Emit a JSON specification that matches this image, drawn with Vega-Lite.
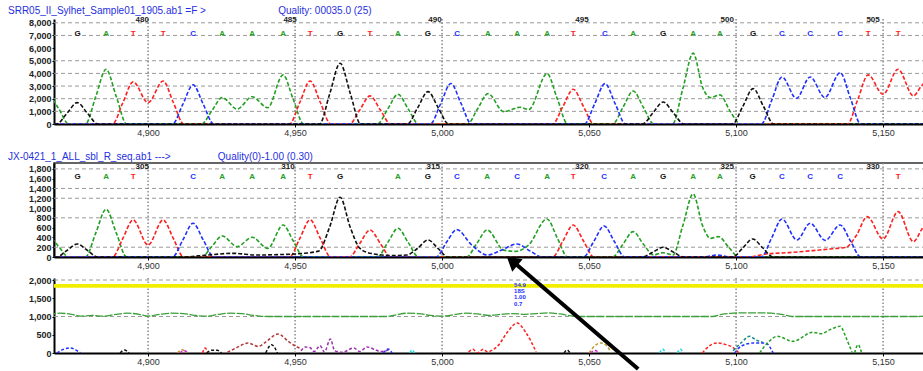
{
"$schema":"https://vega.github.io/schema/vega-lite/v6.json",
"padding":{"left":7,"top":5,"right":0,"bottom":0},
"background":"white",
"spacing":-16,
"resolve":{"scale":{"x":"independent","y":"independent"}},
"datasets":{
"vg":[{"v":4900},{"v":4950},{"v":5000},{"v":5100},{"v":5150}],
"hg1":[{"v":1000},{"v":2000},{"v":3000},{"v":4000},{"v":5000},{"v":7000},{"v":8000}],
"hg2":[{"v":200},{"v":800},{"v":1200},{"v":1400},{"v":1800}],
"hg3":[{"v":1000},{"v":2000}],
"t1":[
{"b":"A","x":4860,"y":1200},{"b":"A","x":4866,"y":2300},{"b":"A","x":4869.5,"y":1250},{"b":"A","x":4873,"y":0},{"b":"A","x":4878.7,"y":0},{"b":"A","x":4882.2,"y":2165},{"b":"A","x":4885.7,"y":4330},{"b":"A","x":4889.2,"y":2165},{"b":"A","x":4892.7,"y":0},{"b":"A","x":4918.2,"y":0},{"b":"A","x":4921.7,"y":1050},{"b":"A","x":4925.2,"y":2090},{"b":"A","x":4930.3,"y":1180},{"b":"A","x":4935.4,"y":2160},{"b":"A","x":4940.7,"y":1290},{"b":"A","x":4945.9,"y":3880},{"b":"A","x":4949.4,"y":1940},{"b":"A","x":4952.9,"y":0},{"b":"A","x":4978,"y":0},{"b":"A","x":4981.5,"y":1175},{"b":"A","x":4985,"y":2350},{"b":"A","x":4988.5,"y":1175},{"b":"A","x":4992,"y":0},{"b":"A","x":5008.6,"y":0},{"b":"A","x":5012.1,"y":1200},{"b":"A","x":5015.6,"y":2400},{"b":"A","x":5021,"y":975},{"b":"A","x":5026.5,"y":1320},{"b":"A","x":5029.5,"y":1150},{"b":"A","x":5035.7,"y":3980},{"b":"A","x":5039.2,"y":1990},{"b":"A","x":5042.7,"y":0},{"b":"A","x":5058,"y":0},{"b":"A","x":5061.5,"y":1305},{"b":"A","x":5065,"y":2610},{"b":"A","x":5068.5,"y":1305},{"b":"A","x":5072,"y":0},{"b":"A","x":5078.4,"y":0},{"b":"A","x":5081.9,"y":2800},{"b":"A","x":5085.4,"y":5600},{"b":"A","x":5088.6,"y":2900},{"b":"A","x":5091.3,"y":2080},{"b":"A","x":5094.5,"y":2300},{"b":"A","x":5098,"y":1000},{"b":"A","x":5101.5,"y":0},{"b":"A","x":5166,"y":0},
{"b":"T","x":4860,"y":0},{"b":"T","x":4887.9,"y":0},{"b":"T","x":4891.4,"y":1665},{"b":"T","x":4894.9,"y":3330},{"b":"T","x":4900,"y":1690},{"b":"T","x":4905.1,"y":3400},{"b":"T","x":4908.6,"y":1700},{"b":"T","x":4912.1,"y":0},{"b":"T","x":4948.1,"y":0},{"b":"T","x":4951.6,"y":1700},{"b":"T","x":4955.1,"y":3400},{"b":"T","x":4958.6,"y":1700},{"b":"T","x":4962.1,"y":0},{"b":"T","x":4968.5,"y":0},{"b":"T","x":4972,"y":1110},{"b":"T","x":4975.5,"y":2220},{"b":"T","x":4979,"y":1110},{"b":"T","x":4982.5,"y":0},{"b":"T","x":5037.6,"y":0},{"b":"T","x":5041.1,"y":1375},{"b":"T","x":5044.6,"y":2750},{"b":"T","x":5048.1,"y":1375},{"b":"T","x":5051.6,"y":0},{"b":"T","x":5137.9,"y":0},{"b":"T","x":5141.4,"y":1940},{"b":"T","x":5144.9,"y":3880},{"b":"T","x":5150,"y":2350},{"b":"T","x":5155.1,"y":4330},{"b":"T","x":5160.3,"y":2220},{"b":"T","x":5163,"y":3000},{"b":"T","x":5166,"y":3700},
{"b":"C","x":4860,"y":0},{"b":"C","x":4908.3,"y":0},{"b":"C","x":4911.8,"y":1545},{"b":"C","x":4915.3,"y":3090},{"b":"C","x":4918.8,"y":1545},{"b":"C","x":4922.3,"y":0},{"b":"C","x":4996,"y":0},{"b":"C","x":4999.5,"y":1600},{"b":"C","x":5003,"y":3200},{"b":"C","x":5006.5,"y":1600},{"b":"C","x":5010,"y":0},{"b":"C","x":5048.4,"y":0},{"b":"C","x":5051.9,"y":1595},{"b":"C","x":5055.4,"y":3190},{"b":"C","x":5058.9,"y":1595},{"b":"C","x":5062.4,"y":0},{"b":"C","x":5108.6,"y":0},{"b":"C","x":5112.1,"y":1860},{"b":"C","x":5115.6,"y":3720},{"b":"C","x":5120.5,"y":2030},{"b":"C","x":5125.2,"y":3720},{"b":"C","x":5130.2,"y":2090},{"b":"C","x":5135.4,"y":4060},{"b":"C","x":5138.9,"y":2030},{"b":"C","x":5142.4,"y":0},{"b":"C","x":5166,"y":0},
{"b":"G","x":4860,"y":0},{"b":"G","x":4868.9,"y":0},{"b":"G","x":4872.4,"y":845},{"b":"G","x":4875.9,"y":1690},{"b":"G","x":4879.4,"y":845},{"b":"G","x":4882.9,"y":0},{"b":"G","x":4958.3,"y":0},{"b":"G","x":4961.8,"y":2400},{"b":"G","x":4965.3,"y":4800},{"b":"G","x":4968.8,"y":2400},{"b":"G","x":4972.3,"y":0},{"b":"G","x":4988.2,"y":0},{"b":"G","x":4991.7,"y":1280},{"b":"G","x":4995.2,"y":2560},{"b":"G","x":4998.7,"y":1280},{"b":"G","x":5002.2,"y":0},{"b":"G","x":5068.2,"y":0},{"b":"G","x":5071.7,"y":870},{"b":"G","x":5075.2,"y":1740},{"b":"G","x":5078.7,"y":870},{"b":"G","x":5082.2,"y":0},{"b":"G","x":5098.8,"y":0},{"b":"G","x":5102.3,"y":1400},{"b":"G","x":5105.8,"y":2800},{"b":"G","x":5109.3,"y":1400},{"b":"G","x":5112.8,"y":0},{"b":"G","x":5166,"y":0}
],
"t2":[
{"b":"A","x":4860,"y":250},{"b":"A","x":4866,"y":420},{"b":"A","x":4869.5,"y":220},{"b":"A","x":4873,"y":0},{"b":"A","x":4878.7,"y":0},{"b":"A","x":4882.2,"y":488},{"b":"A","x":4885.7,"y":975},{"b":"A","x":4889.2,"y":488},{"b":"A","x":4892.7,"y":0},{"b":"A","x":4918.2,"y":0},{"b":"A","x":4921.7,"y":215},{"b":"A","x":4925.2,"y":430},{"b":"A","x":4930.3,"y":211},{"b":"A","x":4935.4,"y":402},{"b":"A","x":4940.7,"y":177},{"b":"A","x":4945.9,"y":654},{"b":"A","x":4949.4,"y":327},{"b":"A","x":4952.9,"y":0},{"b":"A","x":4978,"y":0},{"b":"A","x":4981.5,"y":293},{"b":"A","x":4985,"y":586},{"b":"A","x":4988.5,"y":293},{"b":"A","x":4992,"y":0},{"b":"A","x":5008.3,"y":0},{"b":"A","x":5011.8,"y":276},{"b":"A","x":5015.3,"y":552},{"b":"A","x":5021,"y":140},{"b":"A","x":5025,"y":115},{"b":"A","x":5029.5,"y":250},{"b":"A","x":5035.7,"y":777},{"b":"A","x":5039.2,"y":388},{"b":"A","x":5042.7,"y":0},{"b":"A","x":5058,"y":0},{"b":"A","x":5061.5,"y":259},{"b":"A","x":5065,"y":518},{"b":"A","x":5068.5,"y":259},{"b":"A","x":5072,"y":40},{"b":"A","x":5075,"y":88},{"b":"A","x":5078.5,"y":40},{"b":"A","x":5081.9,"y":644},{"b":"A","x":5085.4,"y":1288},{"b":"A","x":5088.6,"y":640},{"b":"A","x":5091.3,"y":380},{"b":"A","x":5094,"y":416},{"b":"A","x":5097.5,"y":200},{"b":"A","x":5101,"y":0},{"b":"A","x":5166,"y":0},
{"b":"T","x":4860,"y":0},{"b":"T","x":4887.9,"y":0},{"b":"T","x":4891.4,"y":378},{"b":"T","x":4894.9,"y":757},{"b":"T","x":4900,"y":245},{"b":"T","x":4905.1,"y":757},{"b":"T","x":4908.6,"y":378},{"b":"T","x":4912.1,"y":0},{"b":"T","x":4948.1,"y":0},{"b":"T","x":4951.6,"y":378},{"b":"T","x":4955.1,"y":757},{"b":"T","x":4958.6,"y":378},{"b":"T","x":4962.1,"y":0},{"b":"T","x":4968.5,"y":0},{"b":"T","x":4972,"y":276},{"b":"T","x":4975.5,"y":552},{"b":"T","x":4979,"y":276},{"b":"T","x":4982.5,"y":0},{"b":"T","x":5037.6,"y":0},{"b":"T","x":5041.1,"y":327},{"b":"T","x":5044.6,"y":654},{"b":"T","x":5048.1,"y":327},{"b":"T","x":5051.6,"y":0},{"b":"T","x":5104,"y":0},{"b":"T","x":5110,"y":60},{"b":"T","x":5118,"y":90},{"b":"T","x":5126,"y":130},{"b":"T","x":5133,"y":170},{"b":"T","x":5137.5,"y":200},{"b":"T","x":5141,"y":450},{"b":"T","x":5144.6,"y":824},{"b":"T","x":5150,"y":368},{"b":"T","x":5155.1,"y":927},{"b":"T","x":5160.3,"y":313},{"b":"T","x":5163,"y":550},{"b":"T","x":5166,"y":850},
{"b":"C","x":4860,"y":0},{"b":"C","x":4908.3,"y":0},{"b":"C","x":4911.8,"y":345},{"b":"C","x":4915.3,"y":689},{"b":"C","x":4918.8,"y":345},{"b":"C","x":4922.3,"y":0},{"b":"C","x":4998,"y":0},{"b":"C","x":5001.5,"y":300},{"b":"C","x":5005,"y":560},{"b":"C","x":5010,"y":250},{"b":"C","x":5015.5,"y":40},{"b":"C","x":5020.5,"y":150},{"b":"C","x":5025.5,"y":266},{"b":"C","x":5030,"y":120},{"b":"C","x":5034,"y":0},{"b":"C","x":5048.1,"y":0},{"b":"C","x":5051.6,"y":317},{"b":"C","x":5055.1,"y":634},{"b":"C","x":5058.6,"y":317},{"b":"C","x":5062.1,"y":0},{"b":"C","x":5089,"y":0},{"b":"C","x":5093.5,"y":40},{"b":"C","x":5098,"y":0},{"b":"C","x":5108.6,"y":0},{"b":"C","x":5112.1,"y":390},{"b":"C","x":5115.6,"y":777},{"b":"C","x":5120.7,"y":348},{"b":"C","x":5125.2,"y":689},{"b":"C","x":5130.3,"y":340},{"b":"C","x":5135.4,"y":654},{"b":"C","x":5138.9,"y":327},{"b":"C","x":5142.4,"y":0},{"b":"C","x":5166,"y":0},
{"b":"G","x":4860,"y":0},{"b":"G","x":4868.9,"y":0},{"b":"G","x":4872.4,"y":133},{"b":"G","x":4875.9,"y":266},{"b":"G","x":4879.4,"y":133},{"b":"G","x":4882.9,"y":0},{"b":"G","x":4912,"y":0},{"b":"G","x":4920,"y":40},{"b":"G","x":4929,"y":75},{"b":"G","x":4937,"y":40},{"b":"G","x":4945,"y":50},{"b":"G","x":4952,"y":70},{"b":"G","x":4958,"y":120},{"b":"G","x":4961.8,"y":620},{"b":"G","x":4965.3,"y":1220},{"b":"G","x":4968.8,"y":600},{"b":"G","x":4972,"y":180},{"b":"G","x":4976,"y":70},{"b":"G","x":4983,"y":30},{"b":"G","x":4988,"y":40},{"b":"G","x":4991.7,"y":180},{"b":"G","x":4995.2,"y":348},{"b":"G","x":4998.7,"y":170},{"b":"G","x":5002,"y":0},{"b":"G","x":5068.2,"y":0},{"b":"G","x":5071.7,"y":100},{"b":"G","x":5075.2,"y":198},{"b":"G","x":5078.7,"y":100},{"b":"G","x":5082.2,"y":0},{"b":"G","x":5098.8,"y":0},{"b":"G","x":5102.3,"y":184},{"b":"G","x":5105.6,"y":368},{"b":"G","x":5109.1,"y":184},{"b":"G","x":5112.6,"y":0},{"b":"G","x":5166,"y":0}
],
"t3":[
{"g":1,"b":"C","x":4869,"y":0},{"g":1,"b":"C","x":4871.5,"y":110},{"g":1,"b":"C","x":4873.5,"y":137},{"g":1,"b":"C","x":4875.5,"y":80},{"g":1,"b":"C","x":4877,"y":0},
{"g":2,"b":"G","x":4890.5,"y":0},{"g":2,"b":"G","x":4892,"y":82},{"g":2,"b":"G","x":4893.5,"y":0},
{"g":3,"b":"Y","x":4910,"y":0},{"g":3,"b":"Y","x":4911.6,"y":90},{"g":3,"b":"Y","x":4913,"y":0},
{"g":4,"b":"M","x":4910.8,"y":0},{"g":4,"b":"M","x":4912.2,"y":60},{"g":4,"b":"M","x":4913.8,"y":0},
{"g":5,"b":"T","x":4918.5,"y":0},{"g":5,"b":"T","x":4919.4,"y":137},{"g":5,"b":"T","x":4920.3,"y":0},
{"g":6,"b":"G","x":4920,"y":0},{"g":6,"b":"G","x":4921.5,"y":73},{"g":6,"b":"G","x":4923.5,"y":73},{"g":6,"b":"G","x":4925,"y":0},
{"g":7,"b":"R","x":4927,"y":20},{"g":7,"b":"R","x":4930,"y":140},{"g":7,"b":"R","x":4934,"y":274},{"g":7,"b":"R","x":4937.5,"y":180},{"g":7,"b":"R","x":4940,"y":300},{"g":7,"b":"R","x":4944.2,"y":520},{"g":7,"b":"R","x":4948,"y":300},{"g":7,"b":"R","x":4950.7,"y":164},{"g":7,"b":"R","x":4952,"y":120},
{"g":8,"b":"G","x":4940,"y":0},{"g":8,"b":"G","x":4942,"y":228},{"g":8,"b":"G","x":4944,"y":0},
{"g":9,"b":"P","x":4952,"y":60},{"g":9,"b":"P","x":4953.5,"y":164},{"g":9,"b":"P","x":4955,"y":150},{"g":9,"b":"P","x":4956.5,"y":40},{"g":9,"b":"P","x":4958.5,"y":201},{"g":9,"b":"P","x":4960,"y":30},{"g":9,"b":"P","x":4962,"y":384},{"g":9,"b":"P","x":4963.5,"y":60},{"g":9,"b":"P","x":4966,"y":20},{"g":9,"b":"P","x":4970,"y":137},{"g":9,"b":"P","x":4972,"y":40},{"g":9,"b":"P","x":4974.5,"y":164},{"g":9,"b":"P","x":4977,"y":100},{"g":9,"b":"P","x":4979,"y":40},{"g":9,"b":"P","x":4982,"y":90},
{"g":10,"b":"C","x":4980,"y":0},{"g":10,"b":"C","x":4981.6,"y":110},{"g":10,"b":"C","x":4983,"y":0},
{"g":11,"b":"Q","x":4989,"y":0},{"g":11,"b":"Q","x":4989.8,"y":82},{"g":11,"b":"Q","x":4990.6,"y":0},
{"g":12,"b":"T","x":5009,"y":30},{"g":12,"b":"T","x":5010.5,"y":100},{"g":12,"b":"T","x":5012,"y":0},{"g":12,"b":"T","x":5014,"y":100},{"g":12,"b":"T","x":5015.5,"y":30},{"g":12,"b":"T","x":5017.3,"y":90},{"g":12,"b":"T","x":5019,"y":200},{"g":12,"b":"T","x":5022.5,"y":600},{"g":12,"b":"T","x":5025.5,"y":822},{"g":12,"b":"T","x":5028.5,"y":560},{"g":12,"b":"T","x":5032,"y":30},
{"g":13,"b":"G","x":5041.5,"y":0},{"g":13,"b":"G","x":5042.5,"y":82},{"g":13,"b":"G","x":5043.5,"y":0},
{"g":14,"b":"Y","x":5050,"y":0},{"g":14,"b":"Y","x":5052,"y":200},{"g":14,"b":"Y","x":5054,"y":274},{"g":14,"b":"Y","x":5056,"y":200},{"g":14,"b":"Y","x":5057.5,"y":0},
{"g":15,"b":"M","x":5050.5,"y":0},{"g":15,"b":"M","x":5052,"y":70},{"g":15,"b":"M","x":5053.5,"y":0},
{"g":16,"b":"Q","x":5074,"y":0},{"g":16,"b":"Q","x":5075,"y":110},{"g":16,"b":"Q","x":5076,"y":0},
{"g":17,"b":"Q","x":5080,"y":0},{"g":17,"b":"Q","x":5081,"y":110},{"g":17,"b":"Q","x":5082,"y":0},
{"g":18,"b":"T","x":5088.5,"y":0},{"g":18,"b":"T","x":5091,"y":200},{"g":18,"b":"T","x":5093.5,"y":274},{"g":18,"b":"T","x":5096.5,"y":230},{"g":18,"b":"T","x":5099,"y":150},{"g":18,"b":"T","x":5101,"y":0},
{"g":19,"b":"E","x":5099,"y":60},{"g":19,"b":"E","x":5102,"y":300},{"g":19,"b":"E","x":5104.5,"y":457},{"g":19,"b":"E","x":5107,"y":350},{"g":19,"b":"E","x":5109,"y":300},
{"g":20,"b":"C","x":5099.5,"y":0},{"g":20,"b":"C","x":5102,"y":200},{"g":20,"b":"C","x":5106,"y":274},{"g":20,"b":"C","x":5110,"y":274},{"g":20,"b":"C","x":5112.6,"y":0},
{"g":21,"b":"A","x":5108,"y":0},{"g":21,"b":"A","x":5111,"y":300},{"g":21,"b":"A","x":5114,"y":457},{"g":21,"b":"A","x":5119.4,"y":320},{"g":21,"b":"A","x":5126,"y":566},{"g":21,"b":"A","x":5129,"y":530},{"g":21,"b":"A","x":5132,"y":640},{"g":21,"b":"A","x":5135.4,"y":731},{"g":21,"b":"A","x":5137.5,"y":400},{"g":21,"b":"A","x":5139.5,"y":0},
{"g":22,"b":"A","x":5140.3,"y":0},{"g":22,"b":"A","x":5141.5,"y":228},{"g":22,"b":"A","x":5142.7,"y":0}
],
"q":[{"x":4866,"y":1040},{"x":4870,"y":1090},{"x":4874,"y":1060},{"x":4877,"y":1010},{"x":4881,"y":1030},{"x":4885,"y":1010},{"x":4889,"y":1060},{"x":4893,"y":1090},{"x":4897,"y":1060},{"x":4900,"y":1010},{"x":4904,"y":1060},{"x":4908,"y":1090},{"x":4912,"y":1080},{"x":4916,"y":1030},{"x":4920,"y":1010},{"x":4924,"y":1060},{"x":4928,"y":1090},{"x":4932,"y":1080},{"x":4935,"y":1040},{"x":4938,"y":1010},{"x":4941,"y":1000},{"x":4981,"y":1000},{"x":4984,"y":1040},{"x":4988,"y":1090},{"x":4992,"y":1080},{"x":4996,"y":1030},{"x":5000,"y":1010},{"x":5004,"y":1050},{"x":5008,"y":1090},{"x":5012,"y":1070},{"x":5016,"y":1030},{"x":5020,"y":1060},{"x":5024,"y":1080},{"x":5028,"y":1060},{"x":5032,"y":1080},{"x":5036,"y":1100},{"x":5040,"y":1070},{"x":5044,"y":1020},{"x":5048,"y":1000},{"x":5092,"y":1000},{"x":5095,"y":1060},{"x":5099,"y":1090},{"x":5103,"y":1100},{"x":5108,"y":1100},{"x":5112,"y":1090},{"x":5116,"y":1050},{"x":5119,"y":1000},{"x":5162,"y":1000},{"x":5166,"y":1060}],
"l1":[{"b":"G","x":4876},{"b":"A","x":4885.7},{"b":"T","x":4894.9},{"b":"T","x":4905.1},{"b":"C","x":4915.3},{"b":"A","x":4925.2},{"b":"A","x":4935.4},{"b":"A","x":4945.9},{"b":"T","x":4955.1},{"b":"G","x":4965.3},{"b":"T","x":4975.5},{"b":"A","x":4985},{"b":"G","x":4995.2},{"b":"C","x":5005.1},{"b":"A","x":5015.6},{"b":"A","x":5025.5},{"b":"A","x":5035.7},{"b":"T","x":5044.6},{"b":"C","x":5055.4},{"b":"A","x":5065},{"b":"G","x":5075.2},{"b":"A","x":5085.4},{"b":"A","x":5094.5},{"b":"G","x":5105.8},{"b":"C","x":5115.6},{"b":"C","x":5125.2},{"b":"C","x":5135.4},{"b":"T","x":5144.9},{"b":"T","x":5155.1}],
"l2":[{"b":"G","x":4876},{"b":"A","x":4885.7},{"b":"T","x":4894.9},{"b":"C","x":4915.3},{"b":"A","x":4925.2},{"b":"A","x":4935.4},{"b":"A","x":4945.9},{"b":"T","x":4955.1},{"b":"G","x":4965.3},{"b":"A","x":4985},{"b":"G","x":4995.2},{"b":"C","x":5005},{"b":"A","x":5015.3},{"b":"C","x":5025.5},{"b":"A","x":5035.7},{"b":"T","x":5044.6},{"b":"C","x":5055.1},{"b":"A","x":5065},{"b":"G","x":5075.2},{"b":"A","x":5085.4},{"b":"A","x":5094.5},{"b":"G","x":5105.6},{"b":"C","x":5115.6},{"b":"C","x":5125.2},{"b":"C","x":5135.4},{"b":"T","x":5155.1}],
"n1":[{"t":"480","x":4898},{"t":"485","x":4948.3},{"t":"490","x":4997.6},{"t":"495","x":5047.6},{"t":"500","x":5097},{"t":"505","x":5146.6}],
"n2":[{"t":"305","x":4898},{"t":"310","x":4947.6},{"t":"315","x":4997},{"t":"320","x":5047.6},{"t":"325","x":5097},{"t":"330","x":5146.6}],
"info":[{"t":"54.9","y":1863},{"t":"18S","y":1699},{"t":"1.00","y":1534},{"t":"0.7","y":1351}],
"ar":[{"x":5066.7,"y":-438,"x2":5024.5,"y2":2480}],
"ah":[{"x":5023.8,"y":2521}]
},
"vconcat":[
{
"width":872,"height":105,
"title":{"text":"SRR05_II_Sylhet_Sample01_1905.ab1  =F >\u00a0\u00a0\u00a0\u00a0\u00a0\u00a0\u00a0\u00a0\u00a0\u00a0\u00a0\u00a0\u00a0\u00a0\u00a0\u00a0\u00a0\u00a0\u00a0\u00a0\u00a0\u00a0\u00a0\u00a0\u00a0\u00a0Quality: 00035.0 (25)","anchor":"start","frame":"bounds","fontSize":10,"fontWeight":"normal","color":"#1f2fe0","font":"Liberation Sans","offset":0},
"layer":[
{"data":{"name":"hg1"},"mark":{"type":"rule","color":"#9a9a9a","strokeDash":[4,3],"strokeWidth":1},
 "encoding":{"y":{"field":"v","type":"quantitative","title":null,"scale":{"domain":[0,8300],"nice":false},"axis":{"values":[0,1000,2000,3000,4000,5000,6000,7000,8000],"format":",d"}}}},
{"data":{"name":"vg"},"mark":{"type":"rule","color":"#8a8a8a","strokeDash":[1.5,2],"strokeWidth":1.5},
 "encoding":{"x":{"field":"v","type":"quantitative","title":null,"scale":{"domain":[4868,5164.6],"nice":false,"zero":false},"axis":{"values":[4900,4950,5000,5050,5100,5150],"format":",d","minExtent":39,"maxExtent":39}}}},
{"data":{"name":"t1"},"mark":{"type":"line","interpolate":"monotone","strokeWidth":1.6,"strokeDash":[4,2],"clip":true},
 "encoding":{"x":{"field":"x","type":"quantitative","title":null,"scale":{"domain":[4868,5164.6],"nice":false,"zero":false},"axis":{"values":[4900,4950,5000,5050,5100,5150],"format":",d","minExtent":39,"maxExtent":39}},
 "y":{"field":"y","type":"quantitative","title":null,"scale":{"domain":[0,8300],"nice":false},"axis":{"values":[0,1000,2000,3000,4000,5000,6000,7000,8000],"format":",d"}},
 "color":{"field":"b","type":"nominal","legend":null,"scale":{"domain":["A","C","G","T","P","R","Y","M","Q","E"],"range":["#22a022","#1f2fff","#111111","#ff2020","#9a2fb0","#b03a3a","#b8a030","#e020d0","#20dde0","#138a8a"]}}}},
{"data":{"name":"l1"},"mark":{"type":"text","fontSize":8,"fontWeight":"bold","font":"Liberation Sans"},
 "encoding":{"x":{"field":"x","type":"quantitative","title":null,"scale":{"domain":[4868,5164.6],"nice":false,"zero":false},"axis":{"values":[4900,4950,5000,5050,5100,5150],"format":",d","minExtent":39,"maxExtent":39}},"y":{"datum":7150,"type":"quantitative","axis":{"values":[0,1000,2000,3000,4000,5000,6000,7000,8000],"format":",d"}},"text":{"field":"b"},
 "color":{"field":"b","type":"nominal","legend":null,"scale":{"domain":["A","C","G","T","P","R","Y","M","Q","E"],"range":["#22a022","#1f2fff","#111111","#ff2020","#9a2fb0","#b03a3a","#b8a030","#e020d0","#20dde0","#138a8a"]}}}},
{"data":{"name":"n1"},"mark":{"type":"text","fontSize":8,"fontWeight":"bold","color":"#222","font":"Liberation Sans"},
 "encoding":{"x":{"field":"x","type":"quantitative","title":null,"scale":{"domain":[4868,5164.6],"nice":false,"zero":false},"axis":{"values":[4900,4950,5000,5050,5100,5150],"format":",d","minExtent":39,"maxExtent":39}},"y":{"datum":8250,"type":"quantitative","axis":{"values":[0,1000,2000,3000,4000,5000,6000,7000,8000],"format":",d"}},"text":{"field":"t"}}}
]
},
{
"width":872,"height":94,
"view":{"stroke":"#333","strokeWidth":1.5},
"title":{"text":"JX-0421_1_ALL_sbl_R_seq.ab1  --->\u00a0\u00a0\u00a0\u00a0\u00a0\u00a0\u00a0\u00a0\u00a0\u00a0\u00a0\u00a0\u00a0\u00a0\u00a0\u00a0\u00a0Quality(0)-1.00 (0.30)","anchor":"start","frame":"bounds","fontSize":10,"fontWeight":"normal","color":"#1f2fe0","font":"Liberation Sans","offset":0},
"layer":[
{"data":{"name":"hg2"},"mark":{"type":"rule","color":"#9a9a9a","strokeDash":[4,3],"strokeWidth":1},
 "encoding":{"y":{"field":"v","type":"quantitative","title":null,"scale":{"domain":[0,1920],"nice":false},"axis":{"values":[0,200,400,600,800,1000,1200,1400,1600,1800],"format":",d"}}}},
{"data":{"name":"vg"},"mark":{"type":"rule","color":"#8a8a8a","strokeDash":[1.5,2],"strokeWidth":1.5},
 "encoding":{"x":{"field":"v","type":"quantitative","title":null,"scale":{"domain":[4868,5164.6],"nice":false,"zero":false},"axis":{"values":[4900,4950,5000,5050,5100,5150],"format":",d"}}}},
{"data":{"name":"t2"},"mark":{"type":"line","interpolate":"monotone","strokeWidth":1.6,"strokeDash":[4,2],"clip":true},
 "encoding":{"x":{"field":"x","type":"quantitative","title":null,"scale":{"domain":[4868,5164.6],"nice":false,"zero":false},"axis":{"values":[4900,4950,5000,5050,5100,5150],"format":",d"}},
 "y":{"field":"y","type":"quantitative","title":null,"scale":{"domain":[0,1920],"nice":false},"axis":{"values":[0,200,400,600,800,1000,1200,1400,1600,1800],"format":",d"}},
 "color":{"field":"b","type":"nominal","legend":null,"scale":{"domain":["A","C","G","T","P","R","Y","M","Q","E"],"range":["#22a022","#1f2fff","#111111","#ff2020","#9a2fb0","#b03a3a","#b8a030","#e020d0","#20dde0","#138a8a"]}}}},
{"data":{"name":"l2"},"mark":{"type":"text","fontSize":8,"fontWeight":"bold","font":"Liberation Sans"},
 "encoding":{"x":{"field":"x","type":"quantitative","title":null,"scale":{"domain":[4868,5164.6],"nice":false,"zero":false},"axis":{"values":[4900,4950,5000,5050,5100,5150],"format":",d"}},"y":{"datum":1636,"type":"quantitative","axis":{"values":[0,200,400,600,800,1000,1200,1400,1600,1800],"format":",d"}},"text":{"field":"b"},
 "color":{"field":"b","type":"nominal","legend":null,"scale":{"domain":["A","C","G","T","P","R","Y","M","Q","E"],"range":["#22a022","#1f2fff","#111111","#ff2020","#9a2fb0","#b03a3a","#b8a030","#e020d0","#20dde0","#138a8a"]}}}},
{"data":{"name":"n2"},"mark":{"type":"text","fontSize":8,"fontWeight":"bold","color":"#222","font":"Liberation Sans"},
 "encoding":{"x":{"field":"x","type":"quantitative","title":null,"scale":{"domain":[4868,5164.6],"nice":false,"zero":false},"axis":{"values":[4900,4950,5000,5050,5100,5150],"format":",d"}},"y":{"datum":1830,"type":"quantitative","axis":{"values":[0,200,400,600,800,1000,1200,1400,1600,1800],"format":",d"}},"text":{"field":"t"}}}
]
},
{
"width":872,"height":75,
"layer":[
{"data":{"name":"hg3"},"mark":{"type":"rule","color":"#9a9a9a","strokeDash":[4,3],"strokeWidth":1},
 "encoding":{"y":{"field":"v","type":"quantitative","title":null,"scale":{"domain":[0,2055],"nice":false},"axis":{"values":[0,500,1000,1500,2000],"format":",d"}}}},
{"data":{"name":"vg"},"mark":{"type":"rule","color":"#8a8a8a","strokeDash":[1.5,2],"strokeWidth":1.5},
 "encoding":{"x":{"field":"v","type":"quantitative","title":null,"scale":{"domain":[4868,5164.6],"nice":false,"zero":false},"axis":{"values":[4900,4950,5000,5050,5100,5150],"format":",d"}}}},
{"data":{"name":"vg"},"mark":{"type":"rule","color":"#f2ee00","strokeWidth":3},
 "encoding":{"y":{"datum":1840,"type":"quantitative","axis":{"values":[0,500,1000,1500,2000],"format":",d"}}}},
{"data":{"name":"q"},"mark":{"type":"line","interpolate":"monotone","strokeWidth":1.3,"strokeDash":[8,1.5],"color":"#3aa03a","clip":true},
 "encoding":{"x":{"field":"x","type":"quantitative","title":null,"scale":{"domain":[4868,5164.6],"nice":false,"zero":false},"axis":{"values":[4900,4950,5000,5050,5100,5150],"format":",d"}},
 "y":{"field":"y","type":"quantitative","title":null,"scale":{"domain":[0,2055],"nice":false},"axis":{"values":[0,500,1000,1500,2000],"format":",d"}}}},
{"data":{"name":"t3"},"mark":{"type":"line","interpolate":"monotone","strokeWidth":1.5,"strokeDash":[3,2],"clip":true},
 "encoding":{"x":{"field":"x","type":"quantitative","title":null,"scale":{"domain":[4868,5164.6],"nice":false,"zero":false},"axis":{"values":[4900,4950,5000,5050,5100,5150],"format":",d"}},
 "y":{"field":"y","type":"quantitative","title":null,"scale":{"domain":[0,2055],"nice":false},"axis":{"values":[0,500,1000,1500,2000],"format":",d"}},
 "detail":{"field":"g","type":"nominal"},
 "color":{"field":"b","type":"nominal","legend":null,"scale":{"domain":["A","C","G","T","P","R","Y","M","Q","E"],"range":["#22a022","#1f2fff","#111111","#ff2020","#9a2fb0","#b03a3a","#b8a030","#e020d0","#20dde0","#138a8a"]}}}},
{"data":{"name":"info"},"mark":{"type":"text","fontSize":6,"fontWeight":"bold","color":"#2030ff","align":"left","font":"Liberation Sans"},
 "encoding":{"x":{"datum":5024.5,"type":"quantitative","axis":{"values":[4900,4950,5000,5050,5100,5150],"format":",d"}},"y":{"field":"y","type":"quantitative","title":null,"axis":{"values":[0,500,1000,1500,2000],"format":",d"}},"text":{"field":"t"}}},
{"data":{"name":"ar"},"mark":{"type":"rule","color":"#000","strokeWidth":4,"clip":false},
 "encoding":{"x":{"field":"x","type":"quantitative","title":null,"axis":{"values":[4900,4950,5000,5050,5100,5150],"format":",d"}},"y":{"field":"y","type":"quantitative","title":null,"axis":{"values":[0,500,1000,1500,2000],"format":",d"}},"x2":{"field":"x2"},"y2":{"field":"y2"}}},
{"data":{"name":"ah"},"mark":{"type":"point","shape":"triangle-up","filled":true,"color":"#000","size":260,"angle":310,"opacity":1,"clip":false},
 "encoding":{"x":{"field":"x","type":"quantitative","title":null,"axis":{"values":[4900,4950,5000,5050,5100,5150],"format":",d"}},"y":{"field":"y","type":"quantitative","title":null,"axis":{"values":[0,500,1000,1500,2000],"format":",d"}}}}
]
}
],
"config":{
 "view":{"stroke":null},
 "axis":{"grid":false,"domainColor":"#000","domainWidth":2,"tickColor":"#000","labelFont":"Liberation Sans","labelFontSize":9,"labelFontWeight":"bold","labelColor":"#222"},
 "axisY":{"tickSize":2,"labelPadding":1,"minExtent":46,"maxExtent":46,"labelOverlap":false},
 "axisX":{"tickSize":3,"labelPadding":1,"minExtent":14,"maxExtent":14,"labelFontWeight":"normal","labelColor":"#333"}
}
}
